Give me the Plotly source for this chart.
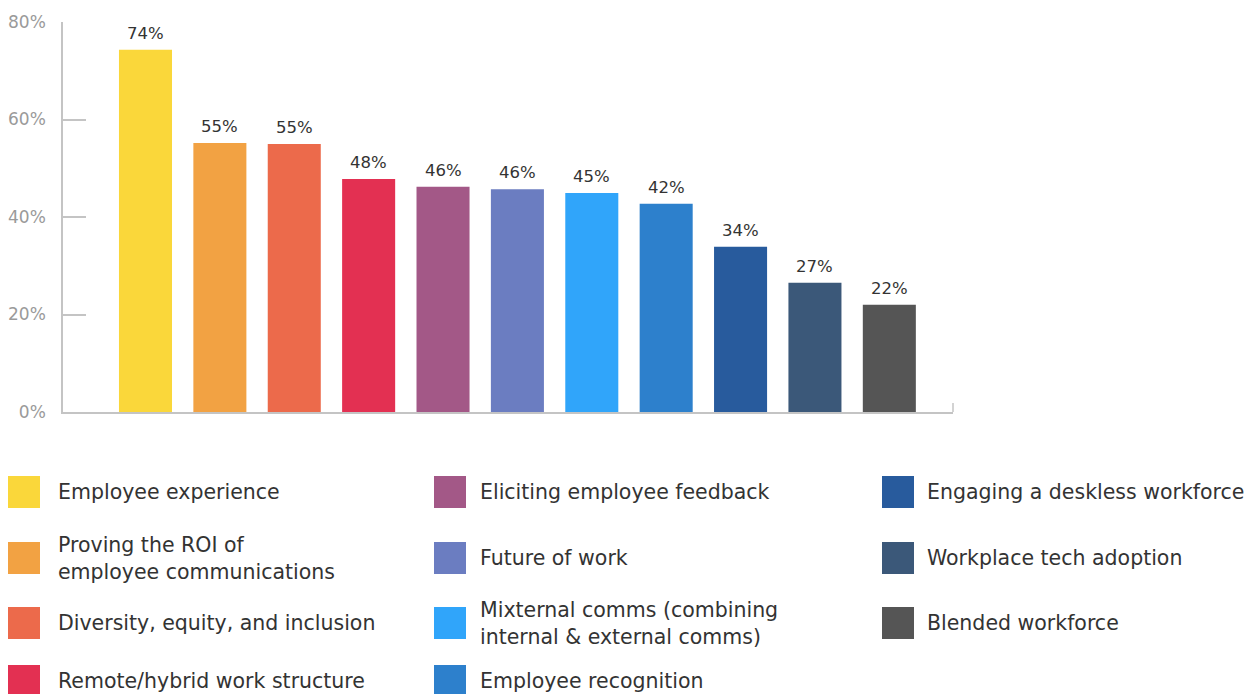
import plotly.graph_objects as go

categories = [
    "Employee experience",
    "Proving the ROI of<br>employee communications",
    "Diversity, equity, and inclusion",
    "Remote/hybrid work structure",
    "Eliciting employee feedback",
    "Future of work",
    "Mixternal comms (combining<br>internal & external comms)",
    "Employee recognition",
    "Engaging a deskless workforce",
    "Workplace tech adoption",
    "Blended workforce",
]
bar_heights = [74.3, 55.2, 55.0, 47.8, 46.2, 45.7, 44.9, 42.7, 33.9, 26.5, 22.0]
labels = [74, 55, 55, 48, 46, 46, 45, 42, 34, 27, 22]
colors = ["#FAD73A", "#F2A243", "#EC6A4B", "#E33052", "#A35887", "#6B7DC1",
          "#30A5FA", "#2D80CC", "#285B9D", "#3B5879", "#555555"]
tick_vals = [0, 20, 40, 60, 80]
tick_text = ["0%", "20%", "40%", "60%", "80%"]

W, H = 1259, 694
L, R, T, B = 63, 306, 22, 282
PW, PH = W - L - R, H - T - B
FONT = "DejaVu Sans"

xs = list(range(len(bar_heights)))
fig = go.Figure()
fig.add_trace(go.Bar(
    x=xs, y=bar_heights,
    marker=dict(color=colors, line=dict(width=0)),
    showlegend=False, hoverinfo="skip",
))

def px2x(px):
    return (px - L) / PW

def py2y(py):
    return (H - B - py) / PH

shapes = []
annotations = []
for x, h, lab in zip(xs, bar_heights, labels):
    annotations.append(dict(x=x, y=h, xref="x", yref="y", text=f"{lab}%",
                            showarrow=False, yanchor="bottom", yshift=5,
                            font=dict(family=FONT, size=16.5, color="#333333")))

col_sq_x = [8, 434, 882]
col_tx_x = [56, 478, 925]
row_cy = [492, 558, 623, 681]
sq = 32
for i, (cat, col) in enumerate(zip(categories, colors)):
    c, r = divmod(i, 4)
    cy = row_cy[r]
    shapes.append(dict(type="rect", xref="paper", yref="paper",
                       x0=px2x(col_sq_x[c]), x1=px2x(col_sq_x[c] + sq),
                       y0=py2y(cy - sq / 2), y1=py2y(cy + sq / 2),
                       fillcolor=col, line=dict(width=0)))
    annotations.append(dict(xref="paper", yref="paper", x=px2x(col_tx_x[c]), y=py2y(cy),
                            xanchor="left", yanchor="middle", align="left",
                            text=cat, showarrow=False,
                            font=dict(family=FONT, size=20.5, color="#333333")))

# right-end tick on x axis
shapes.append(dict(type="line", xref="paper", yref="paper", x0=1, x1=1,
                   y0=0, y1=py2y(403), line=dict(color="#c4c4c4", width=1.5)))

fig.update_layout(
    width=W, height=H,
    margin=dict(l=L, r=R, t=T, b=B, autoexpand=False),
    plot_bgcolor="white", paper_bgcolor="white",
    bargap=0.287,
    shapes=shapes, annotations=annotations,
    xaxis=dict(range=[-1.109, 10.856], showticklabels=False, ticks="",
               showgrid=False, zeroline=False, showline=True, automargin=False,
               linecolor="#c4c4c4", linewidth=1.5),
    yaxis=dict(range=[0, 80], tickvals=tick_vals, ticktext=tick_text,
               ticks="inside", ticklen=23, tickcolor="#c4c4c4", tickwidth=1.5,
               showgrid=False, zeroline=False, showline=True, automargin=False,
               linecolor="#c4c4c4", linewidth=1.5, ticklabelstandoff=12,
               tickfont=dict(family=FONT, size=17, color="#9a9a9a")),
)

fig.write_html("out.html")
